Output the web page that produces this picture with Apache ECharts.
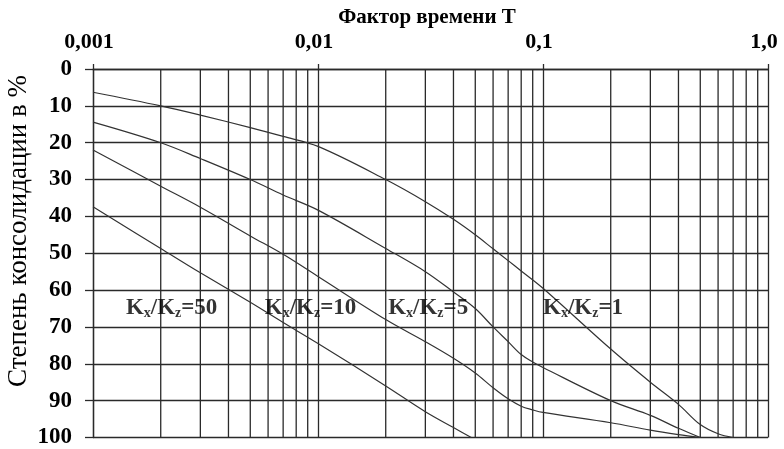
<!DOCTYPE html>
<html>
<head>
<meta charset="utf-8">
<script src="https://cdn.jsdelivr.net/npm/echarts@6/dist/echarts.min.js"></script>
<style>
  html, body { margin: 0; padding: 0; background: #fff; }
  #chart { width: 784px; height: 449px; }
</style>
</head>
<body>
<div id="chart"></div>
<script>
// Time factor T (log scale) and degree of consolidation U, %
const tickLabels = ['0,001', '0,01', '0,1', '1,0'];

const t1 = [0.001, 0.002, 0.003, 0.005, 0.007, 0.01,
            0.02, 0.03, 0.04, 0.05, 0.06, 0.07, 0.08, 0.1,
            0.2, 0.3, 0.4, 0.5, 0.6, 0.7];
const u1 = [6.3, 10, 12.5, 15.9, 18.3, 21,
            30, 36, 40.8, 45, 48.8, 52, 54.8, 59.5,
            76, 85, 91, 96.5, 99, 100];

const t5 = [0.001, 0.002, 0.003, 0.005, 0.007, 0.01,
            0.02, 0.03, 0.04, 0.05, 0.06, 0.07, 0.08, 0.09, 0.1,
            0.2, 0.3, 0.4, 0.5];
const u5 = [14.4, 20, 24.3, 30, 34.2, 38.3,
            48.7, 55, 60.5, 65, 70, 74, 77.5, 79.5, 81,
            90, 94, 97.5, 100];

const t10 = [0.001, 0.002, 0.003, 0.005, 0.007, 0.01,
             0.02, 0.03, 0.04, 0.05, 0.06, 0.07, 0.08, 0.09, 0.1,
             0.2, 0.3, 0.4, 0.5];
const u10 = [22, 31.8, 37.5, 45.3, 50.3, 56.3,
             68, 74, 78.5, 82.5, 86.5, 89.5, 91.5, 92.5, 93.2,
             96, 98, 99.2, 100];

const t50 = [0.001, 0.002, 0.003, 0.005, 0.007, 0.01,
             0.02, 0.03, 0.04, 0.048];
const u50 = [37.4, 48.7, 55.3, 63.3, 68.8, 74.5,
             86, 93, 97.3, 100];

// Curve captions: ratio and anchor point (T, U)
const captionRatios = ['50', '10', '5', '1'];
const captionT = [0.0014, 0.0058, 0.0205, 0.1];
const captionU = [65, 65, 65, 65];

const pairs = (ts, us) => ts.map((t, i) => [t, us[i]]);

// Intermediate log grid lines 2..9 within each decade
const minorValues = [];
[0.001, 0.01, 0.1].forEach(d => {
  for (let k = 2; k <= 9; k++) minorValues.push(+(d * k).toPrecision(3));
});

const serif = '"Liberation Serif", "DejaVu Serif", serif';
const gridColor = '#2a2a2a';
const curveColor = '#333';
const curveStyle = { color: curveColor, width: 1.2 };

const chart = echarts.init(document.getElementById('chart'), null, { renderer: 'canvas' });

const captionData = captionRatios.map((r, i) => ({
  value: [captionT[i], captionU[i]],
  label: { formatter: '{b|K}{s|x}{b|/K}{s|z}{b|=' + r + '}' }
}));

const curve = (data) => ({
  type: 'line', data, showSymbol: false, smooth: 0.35,
  lineStyle: curveStyle, z: 3, silent: true
});

chart.setOption({
  animation: false,
  backgroundColor: '#fff',
  title: {
    text: 'Фактор времени Т',
    left: 422, top: 2, textAlign: 'center',
    textStyle: { fontFamily: serif, fontWeight: 'bold', fontSize: 21, color: '#000' }
  },
  graphic: [{
    type: 'text', x: 19, y: 231, rotation: Math.PI / 2,
    style: {
      text: 'Степень консолидации в %', align: 'center', verticalAlign: 'middle',
      font: '27px ' + serif, fill: '#000'
    }
  }],
  grid: { left: 93, right: 16, top: 69, bottom: 10 },
  xAxis: {
    type: 'log', logBase: 10, min: 0.001, max: 1, position: 'top',
    axisLine: { show: true, lineStyle: { color: gridColor, width: 1.3 } },
    axisTick: { show: true, length: 5, lineStyle: { color: gridColor, width: 1.3 } },
    axisLabel: {
      margin: 16, fontFamily: serif, fontWeight: 'bold', fontSize: 22, color: '#000',
      padding: [0, 8, 0, 0],
      formatter: v => tickLabels[Math.round(Math.log10(v)) + 3]
    },
    splitLine: { show: true, lineStyle: { color: gridColor, width: 1.3 } }
  },
  yAxis: {
    type: 'value', inverse: true, min: 0, max: 100, interval: 10,
    axisLine: { show: true, lineStyle: { color: gridColor, width: 1.3 } },
    axisTick: { show: true, length: 8, lineStyle: { color: gridColor, width: 1.3 } },
    axisLabel: { margin: 21, fontFamily: serif, fontWeight: 'bold', fontSize: 23, color: '#000' },
    splitLine: { show: true, lineStyle: { color: gridColor, width: 1.3 } }
  },
  series: [
    {
      // minor vertical grid lines of the log scale
      type: 'custom', silent: true, z: 1,
      data: minorValues.map(v => [v, 0]),
      encode: { x: 0, y: 1 },
      renderItem: (params, api) => {
        const v = api.value(0);
        const p1 = api.coord([v, 0]);
        const p2 = api.coord([v, 100]);
        return {
          type: 'line',
          shape: { x1: p1[0], y1: p1[1], x2: p2[0], y2: p2[1] },
          style: { stroke: gridColor, lineWidth: 1.3 }
        };
      }
    },
    curve(pairs(t1, u1)),
    curve(pairs(t5, u5)),
    curve(pairs(t10, u10)),
    curve(pairs(t50, u50)),
    {
      type: 'scatter', data: captionData, symbolSize: 0, z: 5, silent: true,
      label: {
        show: true, position: 'right', distance: 0,
        rich: {
          b: { fontFamily: serif, fontWeight: 'bold', fontSize: 23, color: '#000', lineHeight: 24 },
          s: { fontFamily: serif, fontWeight: 'bold', fontSize: 14, color: '#000', lineHeight: 24,
               verticalAlign: 'bottom', padding: [10, 0, 0, 0] }
        }
      }
    }
  ]
});
</script>
</body>
</html>
